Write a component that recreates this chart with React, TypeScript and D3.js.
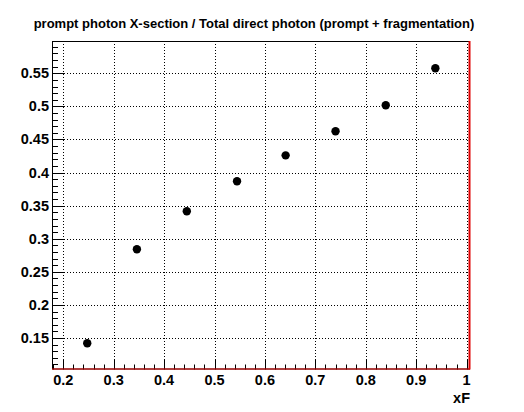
import * as d3 from 'd3';
import React from 'react';

const xF = [0.2475, 0.346, 0.445, 0.5446, 0.641, 0.74, 0.8396, 0.938];
const ratio = [0.142, 0.284, 0.3415, 0.3868, 0.426, 0.4624, 0.5017, 0.5576];

const xMajor = [0.2, 0.3, 0.4, 0.5, 0.6, 0.7, 0.8, 0.9, 1];
const xLabels = ['0.2', '0.3', '0.4', '0.5', '0.6', '0.7', '0.8', '0.9', '1'];
const yMajor = [0.15, 0.2, 0.25, 0.3, 0.35, 0.4, 0.45, 0.5, 0.55];
const yLabels = ['0.15', '0.2', '0.25', '0.3', '0.35', '0.4', '0.45', '0.5', '0.55'];

const title = 'prompt photon X-section / Total direct photon (prompt + fragmentation)';
const FONT = '"Liberation Sans", Arial, Helvetica, sans-serif';

const W = 524;
const H = 412;
const frame = { left: 52, right: 470, top: 41, bottom: 369.5 };

export default function App() {
  const x = d3.scaleLinear().domain([0.1776, 1.0067]).range([frame.left, frame.right]);
  const y = d3.scaleLinear().domain([0.1024, 0.5988]).range([frame.bottom, frame.top]);

  // minor ticks every 0.02 on x and 0.01 on y
  const xMinor = d3.range(9, 51).map(i => i * 0.02).filter(v => v >= 0.1776 && v <= 1.0067);
  const yMinor = d3.range(11, 60).map(i => i * 0.01);

  const dash = '1,2';

  return (
    <svg width={W} height={H} style={{ position: 'absolute', left: 0, top: 0, background: '#fff' }}
      fontFamily={FONT} fontWeight="bold">
      <rect width={W} height={H} fill="#fff" />
      <text x={254} y={28} fontSize={13} textAnchor="middle">{title}</text>

      {/* grid */}
      {xMajor.map(v => (
        <line key={'gx' + v} x1={Math.round(x(v)) + 0.5} x2={Math.round(x(v)) + 0.5}
          y1={frame.top} y2={frame.bottom} stroke="#000" strokeDasharray={dash} />
      ))}
      {yMajor.map(v => (
        <line key={'gy' + v} x1={frame.left} x2={frame.right}
          y1={Math.round(y(v)) + 0.5} y2={Math.round(y(v)) + 0.5} stroke="#000" strokeDasharray={dash} />
      ))}

      {/* frame */}
      <rect x={frame.left + 0.5} y={frame.top + 0.5} width={frame.right - frame.left - 1}
        height={frame.bottom - frame.top - 1} fill="none" stroke="#000" />

      {/* x ticks */}
      {xMinor.map(v => {
        const major = xMajor.some(m => Math.abs(m - v) < 1e-6);
        const px = Math.round(x(v)) + 0.5;
        return <line key={'tx' + v} x1={px} x2={px} y1={frame.bottom} y2={frame.bottom - (major ? 10 : 5)} stroke="#000" />;
      })}
      {/* y ticks */}
      {yMinor.map(v => {
        const major = yMajor.some(m => Math.abs(m - v) < 1e-6);
        const py = Math.round(y(v)) + 0.5;
        return <line key={'ty' + v} x1={frame.left} x2={frame.left + (major ? 12 : 6)} y1={py} y2={py} stroke="#000" />;
      })}

      {/* red outline of the histogram */}
      <line x1={frame.left} x2={frame.right} y1={frame.bottom - 0.5} y2={frame.bottom - 0.5} stroke="#e00000" strokeWidth={1} />
      <line x1={frame.right - 0.5} x2={frame.right - 0.5} y1={frame.top} y2={frame.bottom} stroke="#e00000" strokeWidth={2} />

      {/* labels */}
      {xMajor.map((v, i) => (
        <text key={'lx' + v} x={x(v)} y={385} fontSize={14.5} textAnchor="middle">{xLabels[i]}</text>
      ))}
      {yMajor.map((v, i) => (
        <text key={'ly' + v} x={49} y={y(v) + 5} fontSize={14.5} textAnchor="end">{yLabels[i]}</text>
      ))}
      <text x={470} y={403} fontSize={14.5} textAnchor="end">xF</text>

      {/* points */}
      {xF.map((v, i) => (
        <circle key={'p' + i} cx={x(v)} cy={y(ratio[i])} r={4.2} fill="#000" />
      ))}
    </svg>
  );
}
